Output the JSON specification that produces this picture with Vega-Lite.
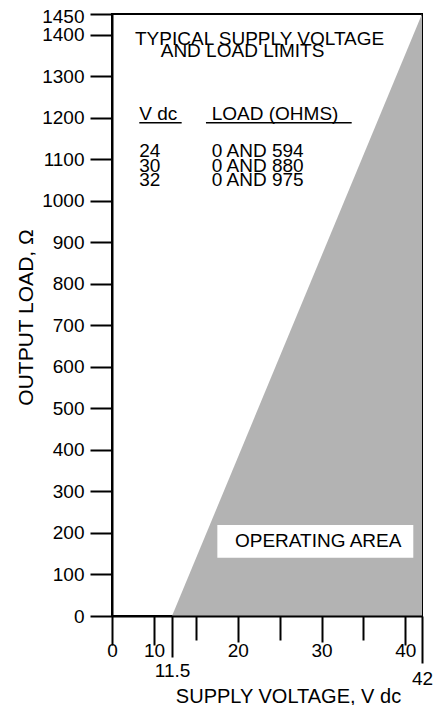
{
  "$schema": "https://vega.github.io/schema/vega-lite/v6.json",
  "width": 310,
  "height": 602,
  "autosize": {"type": "none"},
  "padding": {"left": 112, "top": 14, "right": 11, "bottom": 89},
  "config": {
    "font": "Liberation Sans",
    "view": {"stroke": "black", "strokeWidth": 2},
    "axis": {
      "domainColor": "black", "domainWidth": 2,
      "tickColor": "black", "tickWidth": 2,
      "labelColor": "black", "titleColor": "black",
      "grid": false, "labelFontSize": 19, "titleFontWeight": "normal",
      "labelOverlap": false, "labelFlush": false
    }
  },
  "encoding": {
    "x": {
      "field": "v", "type": "quantitative",
      "scale": {"domain": [0, 10, 11.5, 15, 42], "range": [0, 42, 60, 84, 310], "nice": false, "zero": false},
      "axis": {
        "values": [0, 10, 11.5, 15, 20, 25, 30, 35, 40, 42],
        "labelExpr": "indexof([15,25,35], datum.value) >= 0 ? '' : '' + datum.value",
        "labelBaseline": "alphabetic",
        "labelAlign": "center",
        "tickSize": {"condition": [
          {"test": "datum.value === 11.5", "value": 41},
          {"test": "datum.value === 42", "value": 47},
          {"test": "datum.value === 15 || datum.value === 25 || datum.value === 35", "value": 24},
          {"test": "datum.value === 20 || datum.value === 30", "value": 26}
        ], "value": 29},
        "labelPadding": {"condition": [
          {"test": "datum.value === 11.5", "value": 19},
          {"test": "datum.value === 42", "value": 21},
          {"test": "datum.value === 20 || datum.value === 30", "value": 14}
        ], "value": 11},
        "title": "SUPPLY VOLTAGE, V dc",
        "titleFontSize": 20,
        "titleX": 176,
        "titleY": 86,
        "titleBaseline": "alphabetic",
        "titleAlign": "center",
        "zindex": 1
      }
    },
    "y": {
      "field": "r", "type": "quantitative",
      "scale": {"domain": [0, 1450], "nice": false},
      "axis": {
        "values": [0, 100, 200, 300, 400, 500, 600, 700, 800, 900, 1000, 1100, 1200, 1300, 1400, 1450],
        "format": "d",
        "tickSize": 22,
        "labelPadding": 6,
        "labelOffset": {"condition": {"test": "datum.value === 1450", "value": 2}, "value": 0},
        "title": "OUTPUT LOAD, Ω",
        "titleFontSize": 21,
        "titleX": -80,
        "titleY": 303,
        "titleAngle": -90,
        "titleBaseline": "alphabetic",
        "titleAlign": "center",
        "zindex": 1
      }
    }
  },
  "layer": [
    {
      "data": {"values": [{"v": 11.5, "r": 0}, {"v": 42, "r": 1450}]},
      "mark": {"type": "area", "color": "#b3b3b3"}
    },
    {
      "data": {"values": [{"v": 17.55, "v2": 40.96, "r": 219, "r2": 140.4}]},
      "mark": {"type": "rect", "color": "white"},
      "encoding": {"x2": {"field": "v2"}, "y2": {"field": "r2"}}
    },
    {
      "data": {"values": [
        {"v": 5.48, "r": 1375, "t": "TYPICAL SUPPLY VOLTAGE"},
        {"v": 10.56, "r": 1347, "t": "AND LOAD LIMITS"},
        {"v": 6.5, "r": 1195, "t": "V dc"},
        {"v": 16.88, "r": 1195, "t": "LOAD (OHMS)"},
        {"v": 6.5, "r": 1105, "t": "24"},
        {"v": 16.88, "r": 1105, "t": "0 AND 594"},
        {"v": 6.5, "r": 1070, "t": "30"},
        {"v": 16.88, "r": 1070, "t": "0 AND 880"},
        {"v": 6.5, "r": 1036, "t": "32"},
        {"v": 16.88, "r": 1036, "t": "0 AND 975"}
      ]},
      "mark": {"type": "text", "align": "left", "baseline": "alphabetic", "fontSize": 19, "color": "black"},
      "encoding": {"text": {"field": "t"}}
    },
    {
      "data": {"values": [
        {"v": 6.5, "v2": 12.91, "r": 1188},
        {"v": 16.19, "v2": 33.6, "r": 1188}
      ]},
      "mark": {"type": "rule", "color": "black", "strokeWidth": 1.5},
      "encoding": {"x2": {"field": "v2"}}
    },
    {
      "data": {"values": [{"v": 29.6, "r": 165.5, "t": "OPERATING AREA"}]},
      "mark": {"type": "text", "align": "center", "baseline": "alphabetic", "fontSize": 19, "color": "black"},
      "encoding": {"text": {"field": "t"}}
    }
  ]
}
